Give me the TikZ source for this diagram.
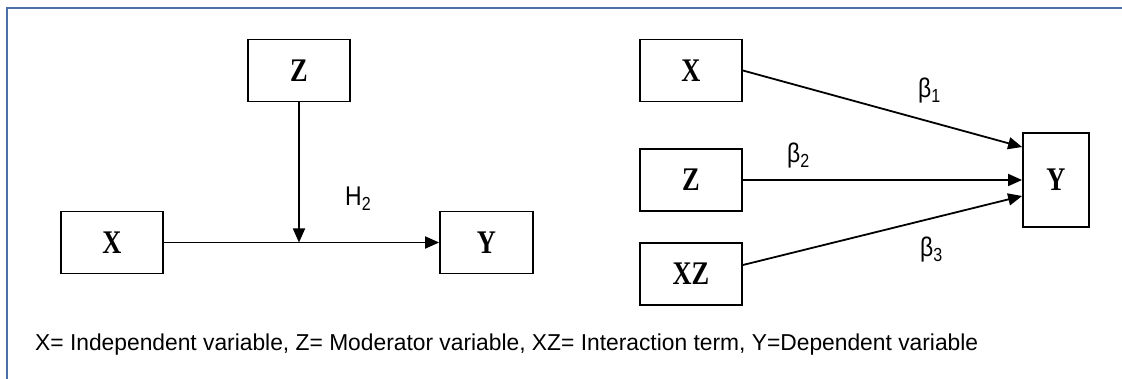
\documentclass[tikz,border=0pt]{standalone}
\usepackage{fontspec}
\setmainfont{Liberation Serif}
\newfontfamily\arialfont{Liberation Sans}
\usetikzlibrary{arrows.meta}
\definecolor{frameblue}{RGB}{74,112,168}
% horizontally condensed text, as in the printed figure
\newcommand{\narrowtext}[2]{\scalebox{#1}[1]{#2}}
\begin{document}
\begin{tikzpicture}[x=1pt,y=-1pt,
  var/.style={draw,line width=1.8pt,inner sep=0pt,minimum width=102pt,minimum height=62pt,
    font=\fontsize{33}{35}\selectfont\bfseries},
  link/.style={line width=1.8pt,-{Triangle[length=14pt,width=12pt]}},
  coef/.style={font=\arialfont\fontsize{27}{29}\selectfont,inner sep=0pt,anchor=base west}]
\useasboundingbox (0,0) rectangle (1122,379);
% frame (top and left edges)
\draw[frameblue,line width=2pt] (7,379) -- (7,8) -- (1122,8);

% moderation model
\node[var] (zL) at (299,70.5) {\narrowtext{0.8}{Z}};
\node[var] (xL) at (112,242.5) {\narrowtext{0.8}{X}};
\node[var,minimum width=93pt] (yL) at (486.5,242.5) {\narrowtext{0.8}{Y}};
\coordinate (jL) at (zL.south |- xL.east);
\draw[link] (xL.east) -- (yL.west);
\draw[link] (zL.south) -- (jL);
\node[coef] (h2) at (345,206) {\narrowtext{0.85}{H\textsubscript{2}}};

% regression model
\node[var] (xR) at (691,70.5) {\narrowtext{0.8}{X}};
\node[var] (zR) at (691,180) {\narrowtext{0.8}{Z}};
\node[var] (xzR) at (691,274) {\narrowtext{0.8}{XZ}};
\node[var,minimum width=66pt,minimum height=94pt] (yR) at (1056,180) {\narrowtext{0.8}{Y}};
\coordinate (s3) at ([yshift=9pt]xzR.east);
\coordinate (t1) at ([yshift=33pt]yR.west);
\coordinate (t3) at ([yshift=-16pt]yR.west);
\draw[link] (xR.east) -- (t1);
\draw[link] (zR.east) -- (yR.west);
\draw[link] (s3) -- (t3);
\node[coef] (b1) at (918,98) {\narrowtext{0.85}{β\textsubscript{1}}};
\node[coef] (b2) at (787,163) {\narrowtext{0.85}{β\textsubscript{2}}};
\node[coef] (b3) at (920,257) {\narrowtext{0.85}{β\textsubscript{3}}};

% legend
\node[anchor=base west,inner sep=0pt,font=\arialfont\fontsize{23}{25}\selectfont] (legend) at (35,350)
  {\resizebox{943pt}{\height}{X= Independent variable, Z= Moderator variable, XZ= Interaction term, Y=Dependent variable}};
\end{tikzpicture}
\end{document}
